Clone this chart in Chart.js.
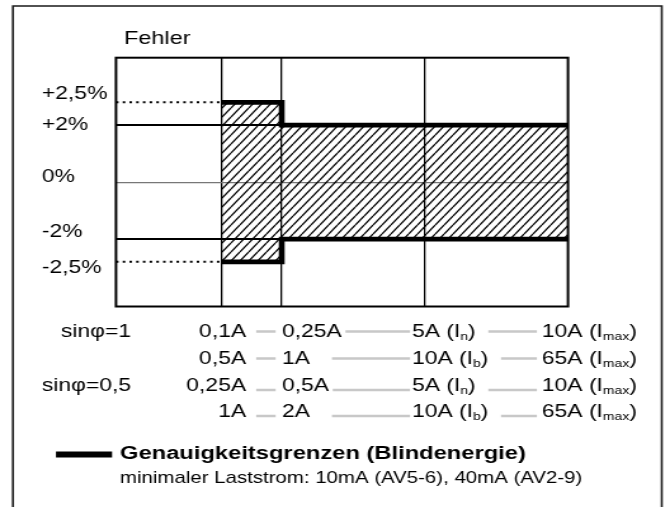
<!DOCTYPE html>
<html><head><meta charset="utf-8">
<script src="https://cdn.jsdelivr.net/npm/chart.js@4/dist/chart.umd.min.js"></script>
<style>
html,body{margin:0;padding:0;background:#fff;overflow:hidden;width:670px;height:507px;}
#wrap{position:absolute;left:0;top:0;width:528px;height:507px;transform-origin:0 0;transform:scaleX(1.26894);}
canvas{display:block;}
</style></head><body>
<div id="wrap"><canvas id="c" width="528" height="507"></canvas></div>
<script>
// ---------- data ----------
const xBoundaries = [0, 7, 11, 20.5, 30];      // plot edges and current-range boundaries
const limitX = [7, 11, 30];
const upperLimit = [2.5, 2, 2];
const lowerLimit = [-2.5, -2, -2];
const refLineX = [0, 7];
const refUpper = [2.5, 2.5];
const refLower = [-2.5, -2.5];
const yGridValues = [-2, 0, 2];
const yTickLabels = ['+2,5%', '+2%', '0%', '-2%', '-2,5%'];
const yTickAnchors = [2.69, 2.0, 0.19, -1.74, -2.64];
const yScaleValues = [-3.5, -2.5, -2, 2, 2.5, 3.5];
const yScaleFractions = [0, 0.1795, 0.271, 0.729, 0.8205, 1];
const rowLabels = ['sinφ=1', '', 'sinφ=0,5', ''];
const col1 = ['0,1A', '0,5A', '0,25A', '1A'];
const col2 = ['0,25A', '1A', '0,5A', '2A'];
const col3 = ['5A (I_n)', '10A (I_b)', '5A (I_n)', '10A (I_b)'];
const col4 = ['10A (I_max)', '65A (I_max)', '10A (I_max)', '65A (I_max)'];
const yAxisTitle = 'Fehler';
const legendLabel = 'Genauigkeitsgrenzen (Blindenergie)';
const footnote = 'minimaler Laststrom: 10mA (AV5-6), 40mA (AV2-9)';

// ---------- custom (schematic) scale ----------
function warp(v) {
  const V = yScaleValues, F = yScaleFractions, n = V.length - 1;
  if (v <= V[0]) return F[0] + (v - V[0]) * (F[1] - F[0]) / (V[1] - V[0]);
  for (let i = 0; i < n; i++) {
    if (v <= V[i + 1]) return F[i] + (v - V[i]) * (F[i + 1] - F[i]) / (V[i + 1] - V[i]);
  }
  return F[n] + (v - V[n]) * (F[n] - F[n - 1]) / (V[n] - V[n - 1]);
}
function unwarp(f) {
  const V = yScaleValues, F = yScaleFractions, n = V.length - 1;
  if (f <= F[0]) return V[0] + (f - F[0]) * (V[1] - V[0]) / (F[1] - F[0]);
  for (let i = 0; i < n; i++) {
    if (f <= F[i + 1]) return V[i] + (f - F[i]) * (V[i + 1] - V[i]) / (F[i + 1] - F[i]);
  }
  return V[n] + (f - F[n]) * (V[n] - V[n - 1]) / (F[n] - F[n - 1]);
}
class WarpScale extends Chart.LinearScale {
  getPixelForValue(v) {
    if (v === null || v === undefined || isNaN(v)) return NaN;
    return this.getPixelForDecimal(warp(v));
  }
  getValueForPixel(p) { return unwarp(this.getDecimalForPixel(p)); }
}
WarpScale.id = 'warp';
WarpScale.defaults = {};
Chart.register(WarpScale);

// ---------- styling ----------
const FONT = '"Liberation Sans", Arial, Helvetica, sans-serif';
const canvas = document.getElementById('c');
const ctx = canvas.getContext('2d');

function makeHatch() {
  const t = document.createElement('canvas');
  t.width = 7; t.height = 9;
  const g = t.getContext('2d');
  g.strokeStyle = '#000';
  g.lineWidth = 1.3;
  g.beginPath();
  for (const k of [-1, 0, 1]) { g.moveTo(k * 7, 9); g.lineTo(k * 7 + 7, 0); }
  g.stroke();
  return ctx.createPattern(t, 'repeat');
}
const hatch = makeHatch();

function drawLabel(c, str, x, y, size, subSize) {
  const parts = str.split('_');
  c.font = `${size}px ${FONT}`;
  c.fillText(parts[0], x, y);
  let w = c.measureText(parts[0]).width;
  if (parts.length > 1) {
    const sub = parts[1].replace(')', '');
    c.font = `${subSize}px ${FONT}`;
    c.fillText(sub, x + w, y + 3);
    w += c.measureText(sub).width;
    c.font = `${size}px ${FONT}`;
    c.fillText(')', x + w, y);
    w += c.measureText(')').width;
  }
  return w;
}

const decor = {
  id: 'decor',
  beforeDraw(chart) {
    const c = chart.ctx;
    c.save();
    c.fillStyle = '#fff';
    c.fillRect(0, 0, chart.width, chart.height);
    c.restore();
  },
  afterDraw(chart) {
    const c = chart.ctx, a = chart.chartArea;
    c.save();
    // plot frame
    c.strokeStyle = '#000';
    c.lineWidth = 2;
    c.strokeRect(a.left, a.top, a.right - a.left, a.bottom - a.top);
    // outer frame
    c.lineWidth = 1.6;
    c.strokeStyle = '#1a1a1a';
    c.beginPath();
    c.moveTo(10.2, 530); c.lineTo(10.2, 6); c.lineTo(521.5, 6); c.lineTo(521.5, 530);
    c.stroke();
    // axis title
    c.fillStyle = '#000';
    c.textAlign = 'left';
    c.textBaseline = 'alphabetic';
    c.font = `18.5px ${FONT}`;
    c.fillText(yAxisTitle, a.left + 6.3, 44);

    // table below the plot
    const rowsY = [331, 358, 385, 411];
    const xRowLabel = 103.2, xCol1 = 193.9, xCol2 = 222.2, xCol3 = 324.7, xCol4 = 427.1;
    const size = 18, sub = 11;
    for (let r = 0; r < rowsY.length; r++) {
      const base = rowsY[r] + 6.4;
      c.fillStyle = '#000';
      c.font = `${size}px ${FONT}`;
      if (rowLabels[r]) { c.textAlign = 'right'; c.fillText(rowLabels[r], xRowLabel, base); }
      c.textAlign = 'right';
      c.fillText(col1[r], xCol1, base);
      c.textAlign = 'left';
      c.font = `${size}px ${FONT}`;
      const w2 = c.measureText(col2[r]).width;
      c.fillText(col2[r], xCol2, base);
      const w3 = drawLabel(c, col3[r], xCol3, base, size, sub);
      drawLabel(c, col4[r], xCol4, base, size, sub);
      // grey connectors
      const ly = r < 2 ? rowsY[r] + 0.5 : rowsY[r] + 5;
      c.strokeStyle = '#c8c8c8';
      c.lineWidth = 2.5;
      c.beginPath();
      c.moveTo(xCol1 + 8, ly); c.lineTo(xCol2 - 5, ly);
      c.moveTo(Math.max(xCol2 + w2 + 3, 261.6), ly); c.lineTo(xCol3 - 1.6, ly);
      c.moveTo(xCol3 + w3 + 10, ly); c.lineTo(xCol4 - 4, ly);
      c.stroke();
    }

    // legend
    c.strokeStyle = '#000';
    c.lineWidth = 6;
    c.beginPath();
    c.moveTo(44.1, 454.5); c.lineTo(88.3, 454.5);
    c.stroke();
    c.fillStyle = '#000';
    c.textAlign = 'left';
    c.font = `bold 18.7px ${FONT}`;
    c.fillText(legendLabel, 94.6, 459.4);
    c.font = `16.1px ${FONT}`;
    c.fillText(footnote, 94.6, 483.3);
    c.restore();
  }
};

const pts = (xs, ys) => xs.map((x, i) => ({ x: x, y: ys[i] }));

new Chart(ctx, {
  type: 'line',
  data: {
    datasets: [
      { label: 'Obere Grenze', data: pts(limitX, upperLimit), stepped: true, borderColor: '#000',
        borderWidth: 4.6, borderJoinStyle: 'miter', borderCapStyle: 'butt', pointRadius: 0,
        fill: '+1', backgroundColor: hatch },
      { label: 'Untere Grenze', data: pts(limitX, lowerLimit), stepped: true, borderColor: '#000',
        borderWidth: 4.6, borderJoinStyle: 'miter', borderCapStyle: 'butt', pointRadius: 0, fill: false },
      { label: '+2,5%', data: pts(refLineX, refUpper), borderColor: '#000', borderWidth: 2,
        borderDash: [2, 3.3], pointRadius: 0, fill: false },
      { label: '-2,5%', data: pts(refLineX, refLower), borderColor: '#000', borderWidth: 2,
        borderDash: [2, 3.3], pointRadius: 0, fill: false }
    ]
  },
  options: {
    responsive: false,
    animation: false,
    devicePixelRatio: 1,
    events: [],
    layout: { padding: { left: 33.1, right: 80.4, top: 57.7, bottom: 200.5 } },
    plugins: { legend: { display: false }, tooltip: { enabled: false }, title: { display: false } },
    scales: {
      x: {
        type: 'linear', min: xBoundaries[0], max: xBoundaries[xBoundaries.length - 1], position: 'bottom',
        afterBuildTicks: s => { s.ticks = xBoundaries.slice(1, -1).map(v => ({ value: v })); },
        ticks: { display: false },
        grid: { color: '#000', lineWidth: 1.3, drawTicks: false },
        border: { display: false },
        afterFit: s => { s.height = 0; }
      },
      y: {
        type: 'warp', min: yScaleValues[0], max: yScaleValues[yScaleValues.length - 1], position: 'left',
        afterBuildTicks: s => { s.ticks = yTickAnchors.map(v => ({ value: v })); },
        ticks: { autoSkip: false, crossAlign: 'far', padding: 0, color: '#000',
                 font: { family: FONT, size: 18 }, callback: (v, i) => yTickLabels[i] },
        grid: { display: false },
        border: { display: false },
        afterFit: s => { s.width = 58.3; }
      },
      yg: {
        type: 'warp', min: yScaleValues[0], max: yScaleValues[yScaleValues.length - 1], position: 'right',
        afterBuildTicks: s => { s.ticks = yGridValues.map(v => ({ value: v })); },
        ticks: { display: false },
        grid: {
          drawTicks: false,
          color: c => (c.tick && c.tick.value === 0) ? '#777' : '#000',
          lineWidth: c => (c.tick && c.tick.value === 0) ? 1.2 : 2
        },
        border: { display: false },
        afterFit: s => { s.width = 0; }
      }
    }
  },
  plugins: [decor]
});
</script>
</body></html>
